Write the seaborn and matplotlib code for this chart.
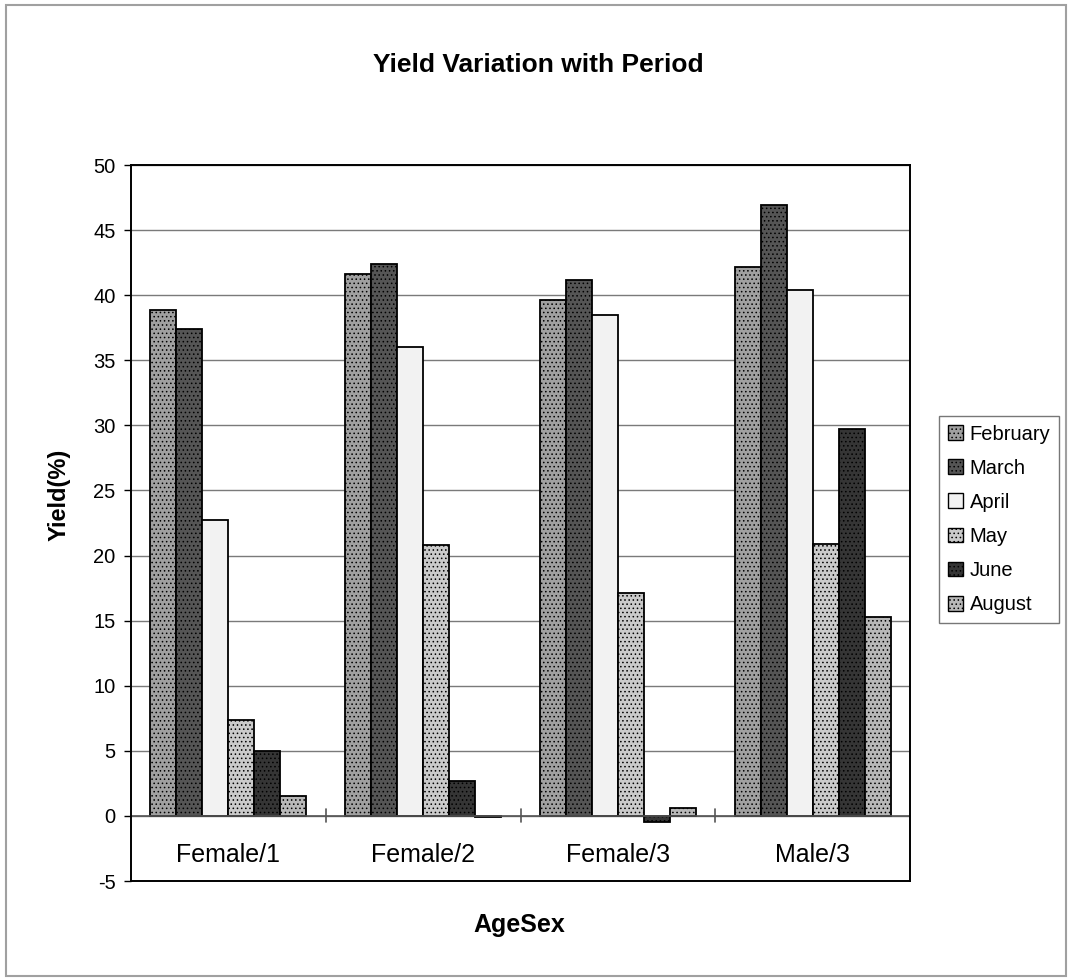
import matplotlib
matplotlib.use("Agg")
import matplotlib.pyplot as plt
from matplotlib.patches import Patch, Rectangle
import pandas as pd
import seaborn as sns

# Yield (%) by sampling month for each age/sex class
categories = ["Female/1", "Female/2", "Female/3", "Male/3"]
months = ["February", "March", "April", "May", "June", "August"]
february = [38.9, 41.6, 39.6, 42.2]
march = [37.4, 42.4, 41.2, 46.9]
april = [22.7, 36.0, 38.5, 40.4]
may = [7.4, 20.8, 17.1, 20.9]
june = [5.0, 2.7, -0.5, 29.7]
august = [1.5, -0.1, 0.6, 15.3]
y_ticks = list(range(-5, 51, 5))

series = [february, march, april, may, june, august]
df = pd.DataFrame(
    [(c, m, v) for m, vals in zip(months, series) for c, v in zip(categories, vals)],
    columns=["AgeSex", "Month", "Yield"],
)

# grey fills with a fine dot texture, like a monochrome print
fills = ["#a0a0a0", "#555555", "#f2f2f2", "#cacaca", "#353535", "#b8b8b8"]
hatches = ["....", "....", "", "....", "....", "...."]

sns.set_style("white")
plt.rcParams["font.family"] = ["Liberation Sans", "DejaVu Sans"]
plt.rcParams["text.color"] = "black"
plt.rcParams["xtick.color"] = "black"
plt.rcParams["ytick.color"] = "black"
plt.rcParams["hatch.linewidth"] = 0.6

fig = plt.figure(figsize=(10.71, 9.8), dpi=100)
ax = fig.add_axes([0.1223, 0.101, 0.7274, 0.7306])

sns.barplot(
    data=df, x="AgeSex", y="Yield", hue="Month", order=categories,
    hue_order=months, palette=fills, width=0.8, gap=0,
    edgecolor="black", linewidth=1.3, ax=ax, legend=False, errorbar=None,
)
for cont, h in zip(ax.containers, hatches):
    for bar in cont:
        bar.set_hatch(h)

ax.set_ylim(-5, 50)
ax.set_xlim(-0.5, len(categories) - 0.5)
ax.set_yticks(y_ticks)
ax.set_yticklabels([str(t) for t in y_ticks], fontsize=14.5)
ax.yaxis.grid(True, color="#7a7a7a", linewidth=1.0)
ax.set_axisbelow(True)
ax.tick_params(axis="y", left=True, length=5, width=1, color="black", pad=6)

# zero baseline with category separators; labels sit just under it
ax.axhline(0, color="#555555", linewidth=1.2, zorder=1)
ax.set_xticks([])
ax.set_xlabel("")
ax.set_ylabel("")
for i, c in enumerate(categories):
    ax.text(i, -3.0, c, ha="center", va="center", fontsize=18)
for i in range(len(categories) - 1):
    ax.plot([i + 0.5, i + 0.5], [-0.5, 0.55], color="#555555", linewidth=1.2, zorder=1)

for s in ax.spines.values():
    s.set_visible(True)
    s.set_color("black")
    s.set_linewidth(1.4)

fig.text(0.503, 0.934, "Yield Variation with Period", ha="center", va="center",
         fontsize=19, fontweight="bold")
fig.text(0.485, 0.056, "AgeSex", ha="center", va="center", fontsize=18, fontweight="bold")
fig.text(0.055, 0.495, "Yield(%)", ha="center", va="center", rotation=90,
         fontsize=17, fontweight="bold")

handles = [Patch(facecolor=f, edgecolor="black", hatch=h, linewidth=1.0)
           for f, h in zip(fills, hatches)]
leg = fig.legend(handles, months, loc="center left", bbox_to_anchor=(0.877, 0.470),
                 fontsize=14.5, frameon=True, fancybox=False, edgecolor="#555555",
                 handlelength=0.75, handleheight=0.75, handletextpad=0.3,
                 labelspacing=0.75, borderpad=0.45, borderaxespad=0)
leg.get_frame().set_linewidth(1.0)

# light outer frame around the whole chart
fig.patches.append(Rectangle((0.006, 0.004), 0.989, 0.991, transform=fig.transFigure,
                             fill=False, edgecolor="#a0a0a0", linewidth=1.5))

fig.savefig("out.png", dpi=100)
